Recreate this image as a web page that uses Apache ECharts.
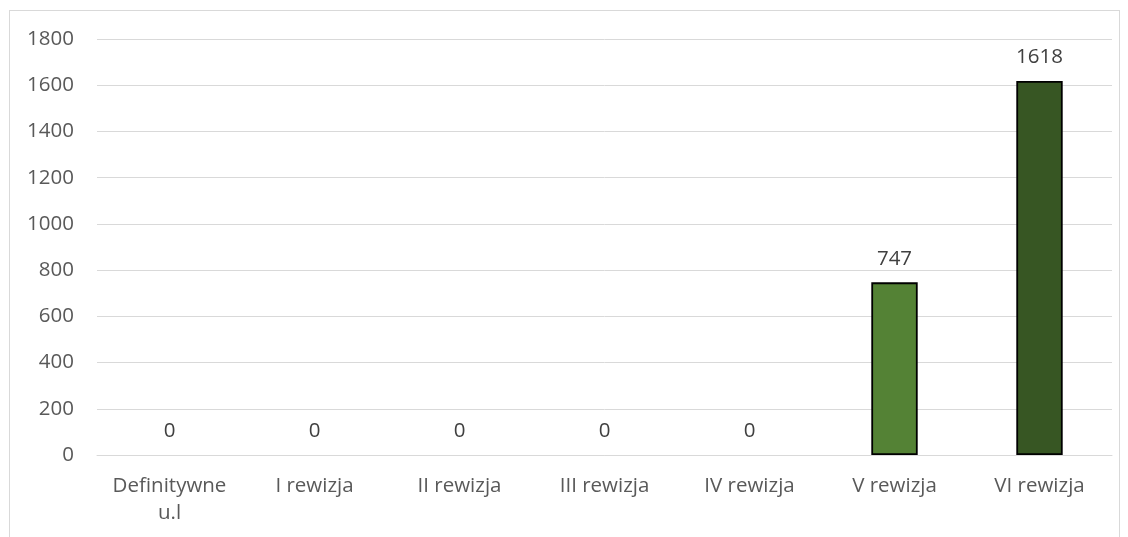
<!DOCTYPE html>
<html>
<head>
<meta charset="utf-8">
<script src="https://cdn.jsdelivr.net/npm/echarts@6/dist/echarts.min.js"></script>
<style>
  html, body { margin: 0; padding: 0; background: #fff; }
  #frame { position: absolute; left: 9px; top: 10px; width: 1111px; height: 540px; border: 1px solid #d9d9d9; box-sizing: border-box; }
  #chart { position: absolute; left: 0; top: 0; width: 1128px; height: 537px; }
</style>
</head>
<body>
<div id="frame"></div>
<div id="chart"></div>
<script>
var categories = ['Definitywne\nu.l', 'I rewizja', 'II rewizja', 'III rewizja', 'IV rewizja', 'V rewizja', 'VI rewizja'];
var values = [0, 0, 0, 0, 0, 747, 1618];
var barColors = ['#548235', '#548235', '#548235', '#548235', '#548235', '#548235', '#375623'];
var yTicks = { min: 0, max: 1800, interval: 200 };

var chart = echarts.init(document.getElementById('chart'), null, { renderer: 'canvas' });
var font = '"Open Sans", "Liberation Sans", sans-serif';

var seriesData = [];
for (var i = 0; i < values.length; i++) {
    // zero bars: no outline, only the label
    seriesData.push({
        value: values[i],
        itemStyle: { color: barColors[i], borderWidth: values[i] ? 1.8 : 0 }
    });
}

var option = {
    animation: false,
    grid: { left: 97, right: 16, top: 39, bottom: 82 },
    xAxis: {
        type: 'category',
        data: categories,
        axisLine: { show: true, lineStyle: { color: '#d9d9d9', width: 1 } },
        axisTick: { show: false },
        axisLabel: { interval: 0, hideOverlap: false, color: '#595959', fontSize: 20.5, fontFamily: font, margin: 18, lineHeight: 27 }
    },
    yAxis: {
        type: 'value',
        min: yTicks.min,
        max: yTicks.max,
        interval: yTicks.interval,
        axisLine: { show: false },
        axisTick: { show: false },
        axisLabel: {
            color: '#595959', fontSize: 20.5, fontFamily: font, margin: 23,
            formatter: function (v) { return String(v); }
        },
        splitLine: { lineStyle: { color: '#d9d9d9', width: 1 } }
    },
    series: [{
        type: 'bar',
        data: seriesData,
        barWidth: '32%',
        itemStyle: { borderColor: '#000' },
        label: {
            show: true,
            position: 'top',
            distance: 13,
            color: '#404040',
            fontSize: 20.5,
            fontFamily: font
        }
    }]
};
chart.setOption(option, true);
</script>
</body>
</html>
